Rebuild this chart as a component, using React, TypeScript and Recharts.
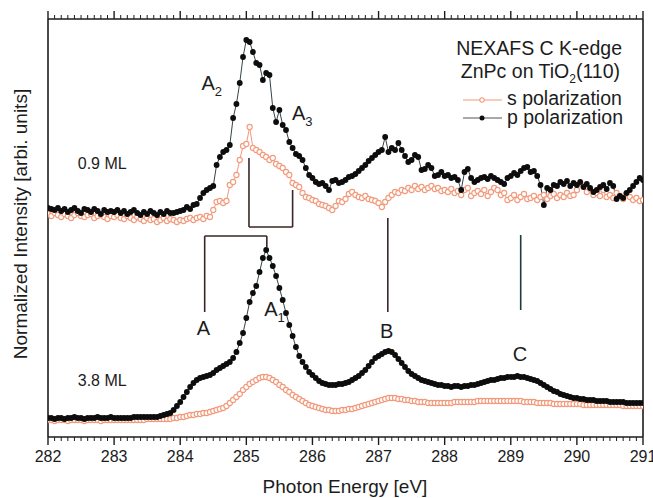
import React from 'react';
import { LineChart, Line, XAxis, YAxis, ReferenceLine, ReferenceDot } from 'recharts';

const FONT = '"Liberation Sans", Arial, Helvetica, sans-serif';
const INK = '#1c1c1c';
const SALMON = '#F29A7B';
const LINE_DARK = '#34444a';

// tick labels (eV)
const majorTicks = [282, 283, 284, 285, 286, 287, 288, 289, 290, 291];
const minorPerMajor = 10;

// photon energy grid: 282.00 ... 291.00 eV, step 0.05 eV
const energyStart = 282;
const energyStep = 0.05;
const energyCount = 181;
const energies = Array.from({ length: energyCount }, (_, i) => Math.round((energyStart + i * energyStep) * 100) / 100);

// 0.9 ML, p polarization (arb. units)
const p09 = [
  229, 228, 227, 229, 226, 228, 225, 227, 229, 226, 224, 228, 227, 225, 228, 226, 223, 227, 225, 226,
  225, 227, 224, 226, 223, 225, 227, 224, 222, 225, 223, 226, 224, 222, 225, 223, 226, 224, 224, 225,
  226, 227, 230, 228, 232, 233, 239, 244, 247, 249, 251, 272, 280, 285, 287, 292, 319, 333, 354, 380,
  397, 395, 385, 374, 372, 357, 364, 362, 329, 315, 327, 312, 307, 295, 289, 283, 281, 277, 269, 262,
  259, 255, 253, 254, 251, 247, 256, 257, 254, 255, 257, 260, 261, 263, 266, 269, 272, 276, 279, 282,
  285, 287, 300, 285, 289, 287, 294, 287, 281, 275, 277, 282, 280, 267, 268, 272, 269, 261, 262, 265,
  261, 262, 259, 260, 257, 247, 265, 268, 259, 255, 257, 259, 260, 258, 261, 259, 257, 255, 253, 259,
  261, 264, 262, 266, 269, 270, 265, 266, 261, 252, 232, 249, 247, 252, 251, 255, 253, 256, 251, 254,
  252, 255, 250, 253, 249, 245, 247, 250, 252, 248, 254, 251, 238, 241, 239, 244, 247, 251, 255, 259, 257,
];

// 0.9 ML, s polarization
const s09 = [
  223, 221, 224, 222, 220, 223, 221, 219, 222, 224, 221, 220, 222, 223, 219, 221, 222, 220, 218, 221,
  220, 222, 219, 218, 221, 219, 217, 220, 218, 216, 219, 217, 218, 215, 217, 219, 216, 218, 217, 215,
  217, 216, 218, 219, 217, 219, 220, 218, 221, 220, 227, 235, 236, 234, 236, 252, 255, 262, 277, 291,
  293, 310, 289, 287, 285, 282, 280, 277, 279, 273, 271, 269, 265, 262, 254, 252, 250, 244, 240, 239,
  237, 236, 233, 232, 231, 229, 227, 231, 236, 235, 238, 243, 245, 242, 240, 239, 241, 238, 237, 236,
  234, 230, 235, 239, 242, 245, 244, 247, 246, 249, 247, 251, 248, 250, 247, 249, 251, 248, 249, 246,
  247, 245, 248, 244, 246, 242, 247, 249, 241, 244, 246, 243, 247, 241, 245, 249, 247, 242, 244, 237,
  239, 242, 237, 240, 243, 238, 239, 241, 237, 240, 242, 238, 241, 243, 239, 242, 240, 244, 241, 242,
  247, 254, 251, 245, 248, 242, 244, 241, 247, 240, 242, 239, 244, 241, 238, 243, 240, 237, 239, 236, 237,
];

// 3.8 ML, p polarization
const p38 = [
  19, 19, 18, 19, 19, 18, 19, 19, 20, 19, 19, 18, 19, 19, 19, 20, 19, 19, 19, 20,
  19, 19, 19, 19, 19, 19, 20, 20, 20, 20, 20, 20, 20, 20, 21, 22, 23, 24, 27, 31,
  35, 40, 45, 50, 54, 57, 59, 60, 61, 62, 64, 67, 69, 71, 73, 75, 79, 85, 94, 104,
  119, 135, 144, 151, 165, 179, 187, 179, 171, 161, 149, 137, 124, 112, 101, 90, 81, 75, 70, 65,
  62, 59, 56, 54, 53, 52, 52, 52, 53, 53, 54, 55, 57, 59, 61, 64, 67, 71, 75, 79,
  81, 83, 85, 86, 85, 82, 78, 74, 70, 66, 63, 61, 59, 57, 56, 55, 54, 53, 52, 52,
  51, 51, 50, 51, 51, 50, 51, 51, 52, 52, 53, 54, 55, 56, 57, 57, 58, 59, 59, 60,
  60, 60, 61, 60, 60, 59, 58, 57, 56, 54, 52, 50, 48, 46, 45, 43, 42, 41, 40, 39,
  39, 38, 38, 37, 37, 37, 36, 36, 36, 36, 35, 35, 35, 35, 35, 34, 34, 34, 34, 34, 34,
];

// 3.8 ML, s polarization
const s38 = [
  17, 17, 16, 17, 17, 17, 16, 17, 17, 17, 17, 16, 17, 17, 17, 17, 16, 17, 17, 17,
  17, 17, 17, 17, 17, 17, 17, 17, 17, 17, 18, 18, 18, 18, 18, 18, 18, 18, 19, 19,
  20, 20, 21, 22, 22, 23, 23, 24, 24, 25, 26, 27, 28, 29, 31, 34, 37, 40, 43, 47,
  50, 53, 55, 57, 59, 60, 60, 59, 57, 55, 52, 50, 47, 45, 42, 40, 38, 36, 34, 32,
  31, 30, 29, 28, 27, 27, 26, 26, 26, 27, 27, 28, 28, 29, 30, 31, 32, 33, 34, 35,
  36, 37, 38, 39, 39, 39, 38, 38, 37, 37, 36, 36, 35, 35, 35, 34, 34, 34, 34, 34,
  34, 34, 34, 35, 35, 35, 35, 35, 35, 35, 36, 36, 36, 36, 36, 36, 36, 36, 36, 36,
  36, 36, 36, 36, 35, 35, 35, 35, 34, 34, 34, 34, 34, 33, 33, 33, 33, 33, 33, 33,
  33, 33, 32, 32, 32, 32, 32, 32, 32, 32, 32, 32, 32, 32, 31, 31, 31, 31, 31, 31, 31,
];

const yDomain = [0, 418];

const allTicks: number[] = [];
for (let k = 0; k < majorTicks.length - 1; k++) {
  for (let j = 0; j < minorPerMajor; j++) {
    allTicks.push(Math.round((majorTicks[k] + (j * (majorTicks[k + 1] - majorTicks[k])) / minorPerMajor) * 1000) / 1000);
  }
}
allTicks.push(majorTicks[majorTicks.length - 1]);

const data = energies.map((e, i) => ({ e, s09: s09[i], p09: p09[i], s38: s38[i], p38: p38[i] }));

const isMajor = (v: number) => majorTicks.some((m) => Math.abs(m - v) < 1e-6);

const BottomTick = (props: any) => {
  const { x, y, payload } = props;
  const major = isMajor(payload.value);
  return (
    <g>
      <line x1={x} y1={y} x2={x} y2={y + (major ? 8 : 4)} stroke={INK} strokeWidth={major ? 1.4 : 1} />
      {major && (
        <text x={x} y={y + 25} textAnchor="middle" fontSize={16} fontFamily={FONT} fill={INK}>
          {payload.value}
        </text>
      )}
    </g>
  );
};

const TopTick = (props: any) => {
  const { x, y, payload } = props;
  const major = isMajor(payload.value);
  return <line x1={x} y1={y} x2={x} y2={y - (major ? 8 : 4)} stroke={INK} strokeWidth={major ? 1.4 : 1} />;
};

const label = (text: string, sub?: string, size = 20) => (p: any) => (
  <text x={p.cx} y={p.cy} fontSize={size} fontFamily={FONT} fill={INK}>
    {text}
    {sub && (
      <tspan fontSize={13} dy={6}>
        {sub}
      </tspan>
    )}
  </text>
);

const annotationLines: { seg: [number, number, number, number]; color: string }[] = [
  // upper bracket (A2 - A3)
  { seg: [285.04, 279, 285.04, 210], color: '#3a2626' },
  { seg: [285.04, 210, 285.7, 210], color: '#3a2626' },
  { seg: [285.7, 210, 285.7, 247], color: '#3a2626' },
  // lower bracket (A - A1)
  { seg: [284.37, 201, 285.31, 201], color: '#3a2626' },
  { seg: [284.37, 201, 284.37, 125], color: '#3a2626' },
  { seg: [285.31, 201, 285.31, 190], color: '#3a2626' },
  // B and C
  { seg: [287.14, 219, 287.14, 125], color: '#3a2626' },
  { seg: [289.15, 202, 289.15, 127], color: '#1f3a40' },
];

const textLabels: { x: number; y: number; text: string; sub?: string; size?: number }[] = [
  { x: 284.25, y: 102, text: 'A' },
  { x: 285.27, y: 121, text: 'A', sub: '1' },
  { x: 284.32, y: 347, text: 'A', sub: '2' },
  { x: 285.69, y: 317, text: 'A', sub: '3' },
  { x: 287.02, y: 99, text: 'B' },
  { x: 289.03, y: 76, text: 'C' },
  { x: 282.45, y: 268, text: '0.9 ML', size: 16 },
  { x: 282.45, y: 51, text: '3.8 ML', size: 16 },
];

export default function App() {
  return (
    <div style={{ position: 'absolute', left: 0, top: 0, width: 653, height: 498, background: '#fff' }}>
      <LineChart width={653} height={498} data={data} margin={{ top: 0, right: 0, bottom: 0, left: 0 }}>
        <XAxis
          dataKey="e"
          type="number"
          domain={[282, 291]}
          ticks={allTicks}
          interval={0}
          height={61}
          tickSize={0}
          tickMargin={0}
          tickLine={false}
          tick={<BottomTick />}
          axisLine={{ stroke: INK, strokeWidth: 1.6 }}
          allowDataOverflow
        />
        <XAxis
          xAxisId="top"
          orientation="top"
          dataKey="e"
          type="number"
          domain={[282, 291]}
          ticks={allTicks}
          interval={0}
          height={19}
          tickSize={0}
          tickMargin={0}
          tickLine={false}
          tick={<TopTick />}
          axisLine={{ stroke: INK, strokeWidth: 1.6 }}
          allowDataOverflow
        />
        <YAxis type="number" domain={yDomain} width={48} tick={false} tickLine={false} axisLine={{ stroke: INK, strokeWidth: 1.6 }} allowDataOverflow />
        <YAxis yAxisId="right" orientation="right" type="number" domain={yDomain} width={10} tick={false} tickLine={false} axisLine={{ stroke: INK, strokeWidth: 1.6 }} />

        {annotationLines.map((l, i) => (
          <ReferenceLine
            key={'l' + i}
            segment={[
              { x: l.seg[0], y: l.seg[1] },
              { x: l.seg[2], y: l.seg[3] },
            ]}
            stroke={l.color}
            strokeWidth={1.6}
          />
        ))}

        <Line dataKey="s09" type="linear" stroke={SALMON} strokeWidth={1} isAnimationActive={false} activeDot={false}
          dot={{ r: 2.6, fill: '#fff', stroke: SALMON, strokeWidth: 1.1 }} />
        <Line dataKey="s38" type="linear" stroke={SALMON} strokeWidth={1} isAnimationActive={false} activeDot={false}
          dot={{ r: 2.6, fill: '#fff', stroke: SALMON, strokeWidth: 1.1 }} />
        <Line dataKey="p09" type="linear" stroke={LINE_DARK} strokeWidth={1} isAnimationActive={false} activeDot={false}
          dot={{ r: 2.9, fill: '#0d0d0d', stroke: 'none' }} />
        <Line dataKey="p38" type="linear" stroke={LINE_DARK} strokeWidth={1} isAnimationActive={false} activeDot={false}
          dot={{ r: 2.9, fill: '#0d0d0d', stroke: 'none' }} />

        {textLabels.map((t, i) => (
          <ReferenceDot key={'t' + i} x={t.x} y={t.y} r={0} shape={label(t.text, t.sub, t.size ?? 20)} />
        ))}
      </LineChart>

      <svg width={653} height={498} style={{ position: 'absolute', left: 0, top: 0, pointerEvents: 'none' }}>
        <g fontFamily={FONT} fill={INK}>
          <text x={622} y={55} fontSize={19.5} textAnchor="end">NEXAFS C K-edge</text>
          <text x={620} y={78} fontSize={19.5} textAnchor="end">
            ZnPc on TiO<tspan fontSize={12} dy={5}>2</tspan><tspan dy={-5}>(110)</tspan>
          </text>
          <line x1={463} y1={100} x2={502} y2={100} stroke={SALMON} strokeWidth={1.2} />
          <circle cx={482} cy={100} r={2.2} fill="#fff" stroke={SALMON} strokeWidth={1.1} />
          <text x={507} y={105} fontSize={19.5}>s polarization</text>
          <line x1={463} y1={118} x2={502} y2={118} stroke="#555" strokeWidth={1.2} />
          <circle cx={482} cy={118} r={2.5} fill="#0d0d0d" />
          <text x={507} y={124} fontSize={19.5}>p polarization</text>
          <text x={345} y={493} fontSize={19} textAnchor="middle">Photon Energy [eV]</text>
          <text x={27} y={224} fontSize={19} textAnchor="middle" transform="rotate(-90, 27, 224)">
            Normalized Intensity [arbi. units]
          </text>
        </g>
      </svg>
    </div>
  );
}
